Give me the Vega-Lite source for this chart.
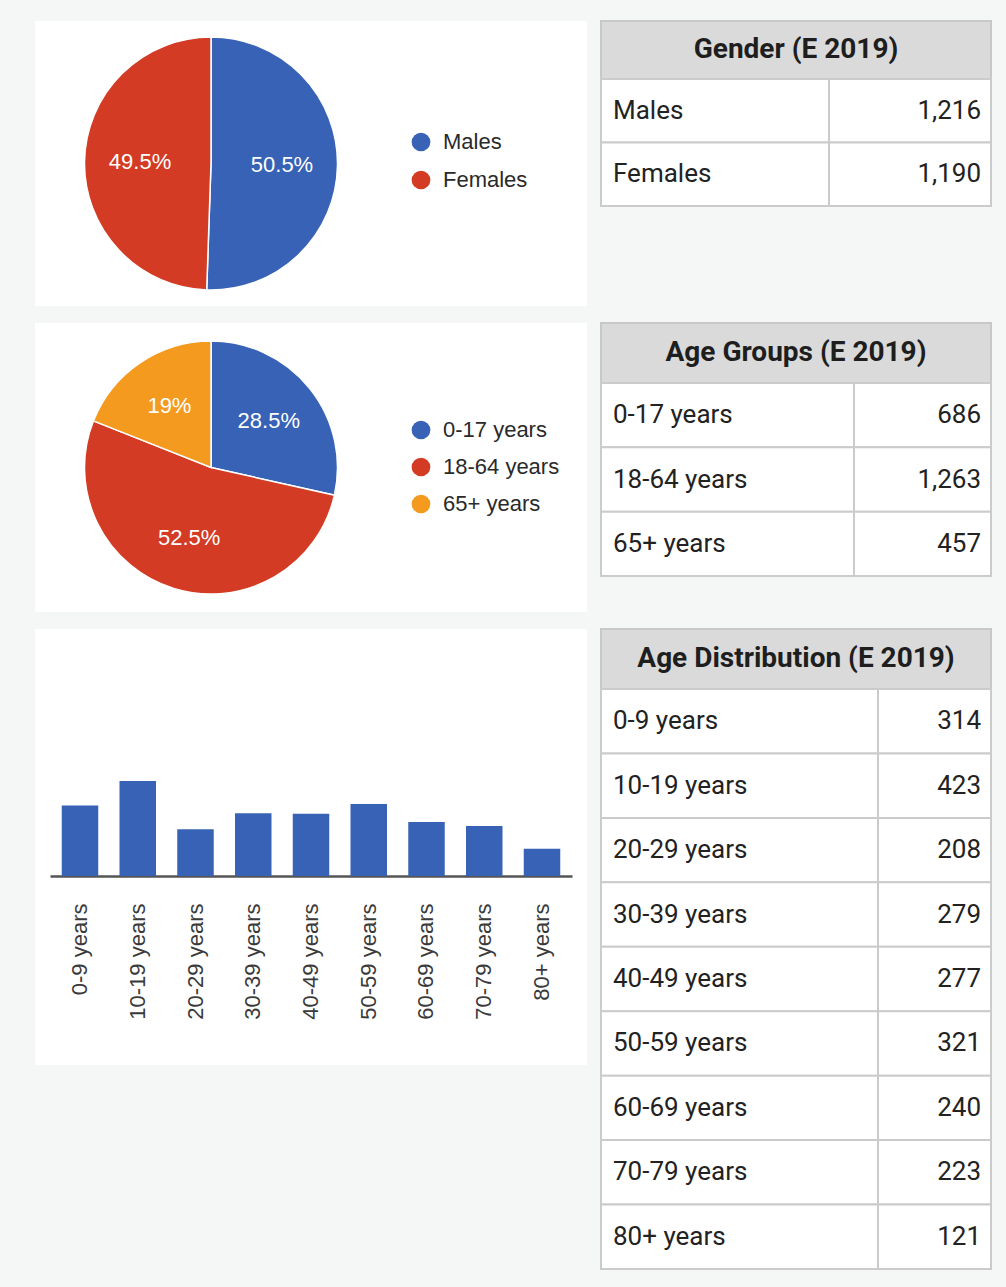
{
  "$schema": "https://vega.github.io/schema/vega-lite/v6.json",
  "background": "#f5f6f6",
  "padding": {"left": 35, "top": 20, "right": 16, "bottom": 19},
  "config": {"view": {"stroke": null}, "font": "Liberation Sans"},
  "datasets": {
    "gender": [
      {"label": "Males", "value": 1216, "share": 0.505},
      {"label": "Females", "value": 1190, "share": 0.495}
    ],
    "agegroups": [
      {"label": "0-17 years", "value": 686, "share": 0.285},
      {"label": "18-64 years", "value": 1263, "share": 0.525},
      {"label": "65+ years", "value": 457, "share": 0.19}
    ],
    "agedist": [
      {"label": "0-9 years", "value": 314},
      {"label": "10-19 years", "value": 423},
      {"label": "20-29 years", "value": 208},
      {"label": "30-39 years", "value": 279},
      {"label": "40-49 years", "value": 277},
      {"label": "50-59 years", "value": 321},
      {"label": "60-69 years", "value": 240},
      {"label": "70-79 years", "value": 223},
      {"label": "80+ years", "value": 121}
    ]
  },
  "resolve": {"scale": {"color": "independent"}, "legend": {"color": "independent"}},
  "spacing": 16,
  "vconcat": [
    {
      "spacing": 13,
      "resolve": {"scale": {"color": "independent"}, "legend": {"color": "independent"}},
      "hconcat": [
        {
          "spacing": 0,
          "resolve": {"scale": {"color": "independent"}, "legend": {"color": "independent"}},
          "hconcat": [
            {
              "data": {"name": "gender"},
              "width": 352, "height": 285,
              "view": {"fill": "white"},
              "layer": [
                {
                  "mark": {"type": "arc", "outerRadius": 126.5, "stroke": "white", "strokeWidth": 1.5},
                  "encoding": {
                    "theta": {"field": "value", "type": "quantitative", "stack": true},
                    "color": {"field": "label", "type": "nominal", "scale": {"domain": ["Males", "Females"], "range": ["#3762b6", "#d33b24"]}, "legend": null},
                    "order": {"field": "label", "sort": "descending"}
                  }
                },
                {
                  "mark": {"type": "text", "radius": 71, "fill": "white", "fontSize": 22, "font": "Liberation Sans"},
                  "encoding": {
                    "theta": {"field": "value", "type": "quantitative", "stack": true},
                    "detail": {"field": "label"},
                    "order": {"field": "label", "sort": "descending"},
                    "text": {"field": "share", "type": "quantitative", "format": ".1~%"}
                  }
                }
              ]
            },
            {
              "data": {"name": "gender"},
              "width": 200, "height": 285,
              "view": {"fill": "white"},
              "mark": {"type": "point", "filled": true, "opacity": 0},
              "encoding": {
                "color": {"field": "label", "type": "nominal", "scale": {"domain": ["Males", "Females"], "range": ["#3762b6", "#d33b24"]},
                  "legend": {"orient": "none", "legendX": 23, "legendY": 110, "title": null, "padding": 0, "symbolType": "circle", "symbolSize": 350, "symbolOpacity": 1, "symbolStrokeWidth": 0, "labelFontSize": 22, "labelFont": "Liberation Sans", "labelColor": "#2a2a2a", "labelOffset": 11, "rowPadding": 16}}
              }
            }
          ]
        },
        {
          "spacing": 0, "bounds": "flush",
          "vconcat": [
            {
              "data": {"values": [{"t": "Gender (E 2019)"}]},
              "width": 390, "height": 58,
              "view": {"fill": "#dadada", "stroke": "#c8c8c8", "strokeWidth": 2},
              "mark": {"type": "text", "font": "Roboto", "fontWeight": "bold", "fontSize": 28, "color": "#1e1e1e"},
              "encoding": {"text": {"field": "t"}}
            },
            {
              "spacing": 0, "bounds": "flush",
              "hconcat": [
                {
                  "data": {"name": "gender"}, "width": 228, "height": 127,
                  "encoding": {"y": {"field": "label", "type": "nominal", "sort": null, "axis": null, "scale": {"paddingInner": 0, "paddingOuter": 0}}},
                  "layer": [
                    {"mark": {"type": "rect", "fill": "white", "stroke": "#cbcbcb", "strokeWidth": 2},
                     "encoding": {"x": {"datum": 0, "type": "quantitative", "scale": {"domain": [0, 1]}, "axis": null}, "x2": {"datum": 1}}},
                    {"mark": {"type": "text", "align": "left", "dx": 12, "font": "Roboto", "fontSize": 26, "color": "#222"},
                     "encoding": {"x": {"datum": 0, "type": "quantitative", "scale": {"domain": [0, 1]}, "axis": null}, "text": {"field": "label"}}}
                  ]
                },
                {
                  "data": {"name": "gender"}, "width": 162, "height": 127,
                  "encoding": {"y": {"field": "label", "type": "nominal", "sort": null, "axis": null, "scale": {"paddingInner": 0, "paddingOuter": 0}}},
                  "layer": [
                    {"mark": {"type": "rect", "fill": "white", "stroke": "#cbcbcb", "strokeWidth": 2},
                     "encoding": {"x": {"datum": 0, "type": "quantitative", "scale": {"domain": [0, 1]}, "axis": null}, "x2": {"datum": 1}}},
                    {"mark": {"type": "text", "align": "right", "dx": -10, "font": "Roboto", "fontSize": 26, "color": "#222"},
                     "encoding": {"x": {"datum": 1, "type": "quantitative", "scale": {"domain": [0, 1]}, "axis": null}, "text": {"field": "value", "type": "quantitative", "format": ","}}}
                  ]
                }
              ]
            }
          ]
        }
      ]
    },
    {
      "spacing": 13,
      "resolve": {"scale": {"color": "independent"}, "legend": {"color": "independent"}},
      "hconcat": [
        {
          "spacing": 0,
          "resolve": {"scale": {"color": "independent"}, "legend": {"color": "independent"}},
          "hconcat": [
            {
              "data": {"name": "agegroups"},
              "width": 352, "height": 289,
              "view": {"fill": "white"},
              "layer": [
                {
                  "mark": {"type": "arc", "outerRadius": 126.5, "stroke": "white", "strokeWidth": 1.5},
                  "encoding": {
                    "theta": {"field": "value", "type": "quantitative", "stack": true},
                    "color": {"field": "label", "type": "nominal", "scale": {"domain": ["0-17 years", "18-64 years", "65+ years"], "range": ["#3762b6", "#d33b24", "#f49b1f"]}, "legend": null},
                    "order": {"field": "label", "sort": "ascending"}
                  }
                },
                {
                  "mark": {"type": "text", "radius": 74, "fill": "white", "fontSize": 22, "font": "Liberation Sans"},
                  "encoding": {
                    "theta": {"field": "value", "type": "quantitative", "stack": true},
                    "detail": {"field": "label"},
                    "order": {"field": "label", "sort": "ascending"},
                    "text": {"field": "share", "type": "quantitative", "format": ".1~%"}
                  }
                }
              ]
            },
            {
              "data": {"name": "agegroups"},
              "width": 200, "height": 289,
              "view": {"fill": "white"},
              "mark": {"type": "point", "filled": true, "opacity": 0},
              "encoding": {
                "color": {"field": "label", "type": "nominal", "scale": {"domain": ["0-17 years", "18-64 years", "65+ years"], "range": ["#3762b6", "#d33b24", "#f49b1f"]},
                  "legend": {"orient": "none", "legendX": 23, "legendY": 96, "title": null, "padding": 0, "symbolType": "circle", "symbolSize": 350, "symbolOpacity": 1, "symbolStrokeWidth": 0, "labelFontSize": 22, "labelFont": "Liberation Sans", "labelColor": "#2a2a2a", "labelOffset": 11, "rowPadding": 15}}
              }
            }
          ]
        },
        {
          "spacing": 0, "bounds": "flush",
          "vconcat": [
            {
              "data": {"values": [{"t": "Age Groups (E 2019)"}]},
              "width": 390, "height": 60,
              "view": {"fill": "#dadada", "stroke": "#c8c8c8", "strokeWidth": 2},
              "mark": {"type": "text", "font": "Roboto", "fontWeight": "bold", "fontSize": 28, "color": "#1e1e1e"},
              "encoding": {"text": {"field": "t"}}
            },
            {
              "spacing": 0, "bounds": "flush",
              "hconcat": [
                {
                  "data": {"name": "agegroups"}, "width": 253, "height": 193,
                  "encoding": {"y": {"field": "label", "type": "nominal", "sort": null, "axis": null, "scale": {"paddingInner": 0, "paddingOuter": 0}}},
                  "layer": [
                    {"mark": {"type": "rect", "fill": "white", "stroke": "#cbcbcb", "strokeWidth": 2},
                     "encoding": {"x": {"datum": 0, "type": "quantitative", "scale": {"domain": [0, 1]}, "axis": null}, "x2": {"datum": 1}}},
                    {"mark": {"type": "text", "align": "left", "dx": 12, "font": "Roboto", "fontSize": 26, "color": "#222"},
                     "encoding": {"x": {"datum": 0, "type": "quantitative", "scale": {"domain": [0, 1]}, "axis": null}, "text": {"field": "label"}}}
                  ]
                },
                {
                  "data": {"name": "agegroups"}, "width": 137, "height": 193,
                  "encoding": {"y": {"field": "label", "type": "nominal", "sort": null, "axis": null, "scale": {"paddingInner": 0, "paddingOuter": 0}}},
                  "layer": [
                    {"mark": {"type": "rect", "fill": "white", "stroke": "#cbcbcb", "strokeWidth": 2},
                     "encoding": {"x": {"datum": 0, "type": "quantitative", "scale": {"domain": [0, 1]}, "axis": null}, "x2": {"datum": 1}}},
                    {"mark": {"type": "text", "align": "right", "dx": -10, "font": "Roboto", "fontSize": 26, "color": "#222"},
                     "encoding": {"x": {"datum": 1, "type": "quantitative", "scale": {"domain": [0, 1]}, "axis": null}, "text": {"field": "value", "type": "quantitative", "format": ","}}}
                  ]
                }
              ]
            }
          ]
        }
      ]
    },
    {
      "spacing": 13,
      "resolve": {"scale": {"color": "independent"}, "legend": {"color": "independent"}},
      "hconcat": [
        {
          "data": {"name": "agedist"},
          "width": 552, "height": 436,
          "view": {"fill": "white"},
          "mark": {"type": "bar", "color": "#3762b6"},
          "encoding": {
            "x": {"field": "label", "type": "nominal", "sort": null, "title": null,
              "scale": {"range": [15, 537], "paddingInner": 0.368, "paddingOuter": 0.2035},
              "axis": {"offset": -189, "labelAngle": -90, "labelFontSize": 22, "labelFont": "Liberation Sans", "labelColor": "#3a3a3a", "labelPadding": 27, "ticks": false, "domainColor": "#555", "domainWidth": 2.5, "grid": false}},
            "y": {"field": "value", "type": "quantitative", "scale": {"domain": [0, 1100], "range": [247, 0]}, "axis": null}
          }
        },
        {
          "spacing": 0, "bounds": "flush",
          "vconcat": [
            {
              "data": {"values": [{"t": "Age Distribution (E 2019)"}]},
              "width": 390, "height": 60,
              "view": {"fill": "#dadada", "stroke": "#c8c8c8", "strokeWidth": 2},
              "mark": {"type": "text", "font": "Roboto", "fontWeight": "bold", "fontSize": 28, "color": "#1e1e1e"},
              "encoding": {"text": {"field": "t"}}
            },
            {
              "spacing": 0, "bounds": "flush",
              "hconcat": [
                {
                  "data": {"name": "agedist"}, "width": 277, "height": 580,
                  "encoding": {"y": {"field": "label", "type": "nominal", "sort": null, "axis": null, "scale": {"paddingInner": 0, "paddingOuter": 0}}},
                  "layer": [
                    {"mark": {"type": "rect", "fill": "white", "stroke": "#cbcbcb", "strokeWidth": 2},
                     "encoding": {"x": {"datum": 0, "type": "quantitative", "scale": {"domain": [0, 1]}, "axis": null}, "x2": {"datum": 1}}},
                    {"mark": {"type": "text", "align": "left", "dx": 12, "font": "Roboto", "fontSize": 26, "color": "#222"},
                     "encoding": {"x": {"datum": 0, "type": "quantitative", "scale": {"domain": [0, 1]}, "axis": null}, "text": {"field": "label"}}}
                  ]
                },
                {
                  "data": {"name": "agedist"}, "width": 113, "height": 580,
                  "encoding": {"y": {"field": "label", "type": "nominal", "sort": null, "axis": null, "scale": {"paddingInner": 0, "paddingOuter": 0}}},
                  "layer": [
                    {"mark": {"type": "rect", "fill": "white", "stroke": "#cbcbcb", "strokeWidth": 2},
                     "encoding": {"x": {"datum": 0, "type": "quantitative", "scale": {"domain": [0, 1]}, "axis": null}, "x2": {"datum": 1}}},
                    {"mark": {"type": "text", "align": "right", "dx": -10, "font": "Roboto", "fontSize": 26, "color": "#222"},
                     "encoding": {"x": {"datum": 1, "type": "quantitative", "scale": {"domain": [0, 1]}, "axis": null}, "text": {"field": "value", "type": "quantitative", "format": ","}}}
                  ]
                }
              ]
            }
          ]
        }
      ]
    }
  ]
}
